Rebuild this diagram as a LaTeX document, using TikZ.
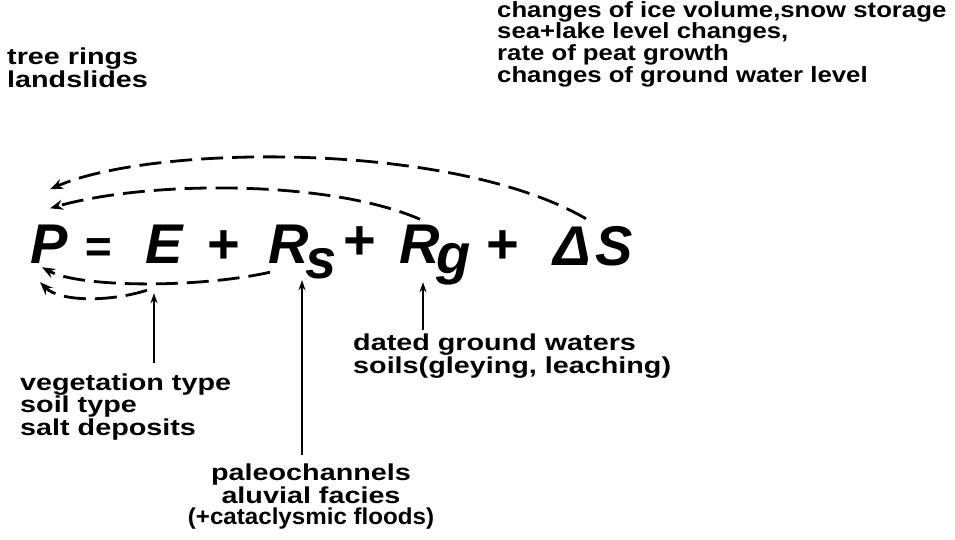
\documentclass[tikz,border=0pt]{standalone}
\usepackage{fontspec}
\usetikzlibrary{arrows.meta,calc}
\newfontfamily\lblfont{Liberation Sans}[FakeStretch=1.25]
\newfontfamily\lblfontn{Liberation Sans}[FakeStretch=1.17]
\newfontfamily\lblfontc{Liberation Sans}[FakeStretch=1.05]
\newfontfamily\eqfont{Liberation Sans}
\tikzset{
  lbl/.style={font=\lblfont\bfseries\fontsize{23}{20}\selectfont, inner sep=0pt, align=left, anchor=base west},
  eqg/.style={font=\eqfont\bfseries\itshape\fontsize{56}{60}\selectfont, inner sep=0pt, anchor=base west},
  arcline/.style={line width=2.8pt, dash pattern=on 22pt off 9pt, -{Stealth[length=13pt,width=10pt]}},
  uparr/.style={line width=2pt, -{Stealth[length=10pt,width=7pt]}}
}
\begin{document}
\begin{tikzpicture}[x=1pt,y=-1pt]
\useasboundingbox (0,0) rectangle (955,539);
% equation
\node[eqg] (P) at (30,263) {P};
\node[eqg, font=\eqfont\bfseries\itshape\fontsize{46}{50}\selectfont] (eq) at (84,262) {=};
\node[eqg] (E) at (145,263) {E};
\node[eqg] (p1) at (206,263) {+};
\node[eqg] (Rs) at (268,263) {R};
\node[eqg] (s) at (305,278) {s};
\node[eqg] (p2) at (342,259) {+};
\node[eqg] (Rg) at (399,263) {R};
\node[eqg] (g) at (436,273) {g};
\node[eqg] (p3) at (485,263) {+};
\node[eqg] (DS) at (553,265) {Δ\kern5ptS};
% labels (anchor base west = baseline of the last line)
\node[lbl] (tree) at (7,87) {tree rings\\landslides};
\node[lbl, font=\lblfontn\bfseries\fontsize{22}{19.5}\selectfont] (store) at (497,82) {changes of ice volume,snow storage\\sea+lake level changes,\\rate of peat growth\\changes of ground water level};
\node[lbl, font=\lblfont\bfseries\fontsize{23}{18.5}\selectfont] (dated) at (353,373) {dated ground waters\\soils(gleying, leaching)};
\node[lbl, font=\lblfont\bfseries\fontsize{23}{22.5}\selectfont] (veg) at (20,435) {vegetation type\\soil type\\salt deposits};
\node[lbl, font=\lblfont\bfseries\fontsize{23}{21}\selectfont, align=center, anchor=base] (paleo) at (311,524) {paleochannels\\aluvial facies\\{\lblfontc (+cataclysmic floods)}};
% dashed arcs
\draw[arcline] ($(DS.north west)+(33,-7)$) .. controls (450,140) and (150,145) .. ($(P.north west)+(20,-35)$);
\draw[arcline] ($(Rg.north west)+(21,-5)$) .. controls (330,180) and (150,180) .. ($(P.north west)+(20,-16)$);
\draw[arcline] ($(Rs.south west)+(2,9)$) .. controls (200,288) and (80,288) .. ($(P.south west)+(12,4)$);
\draw[arcline] ($(E.south west)+(2,27)$) .. controls (110,302) and (60,302) .. ($(P.south west)+(10,19)$);
% vertical arrows
\draw[uparr] ($(E.south west)+(9,100)$) -- ($(E.south west)+(9,30)$);
\draw[uparr] ($(Rs.south west)+(34,192)$) -- ($(Rs.south west)+(34,17)$);
\draw[uparr] ($(Rg.south west)+(24,67)$) -- ($(Rg.south west)+(24,19)$);
\end{tikzpicture}
\end{document}
